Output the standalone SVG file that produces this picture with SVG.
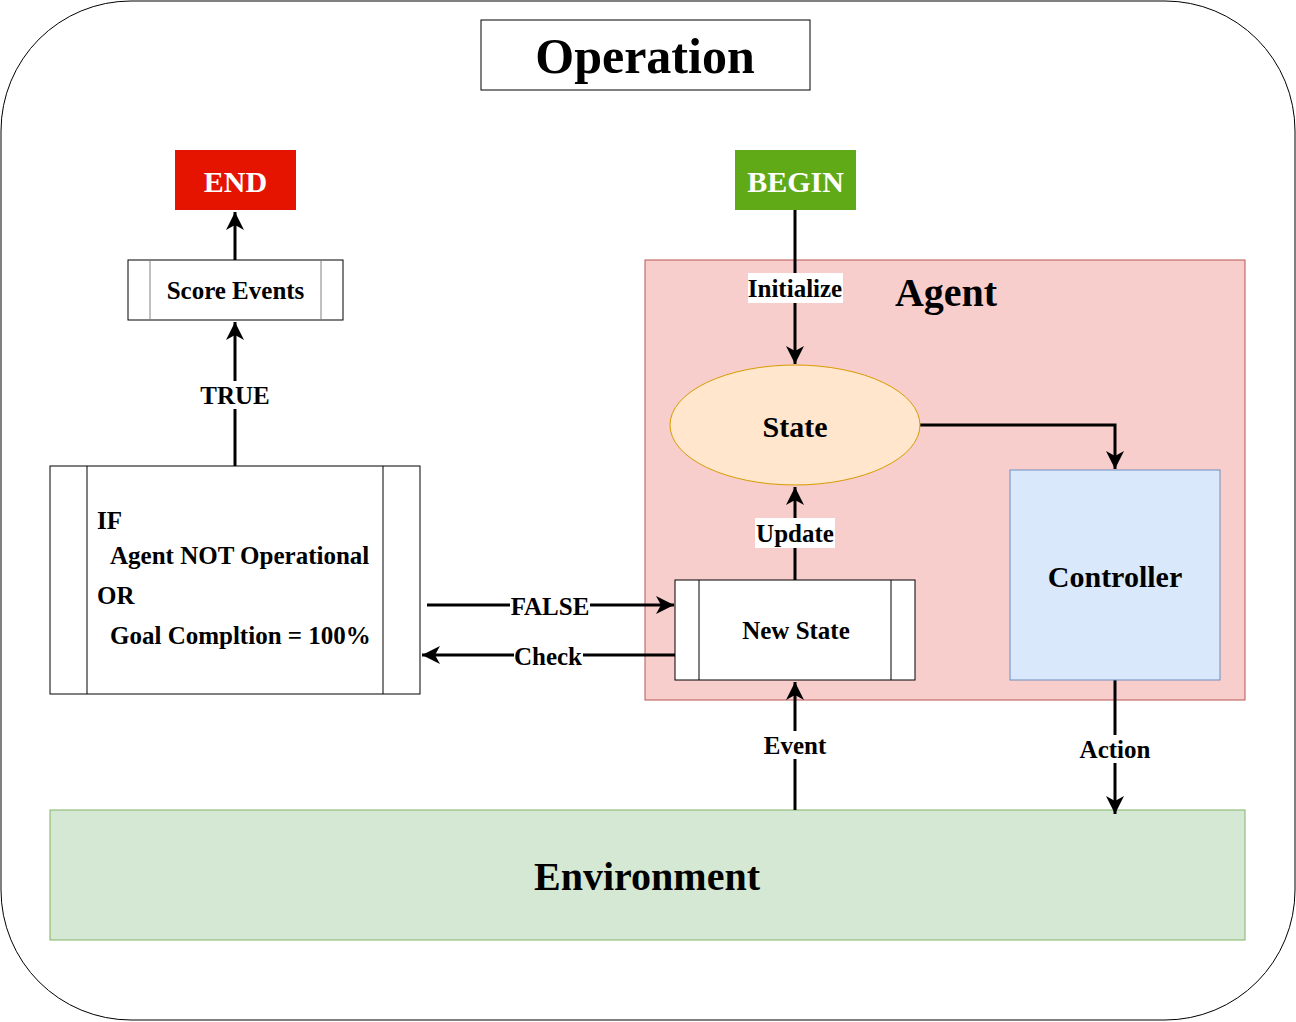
<svg xmlns="http://www.w3.org/2000/svg" width="1296" height="1022" viewBox="0 0 1296 1022">
<style>
text{font-family:"Liberation Serif","Times New Roman",serif;font-weight:bold;fill:#000;}
.c{text-anchor:middle;dominant-baseline:central;}
.ln{fill:none;stroke:#000;stroke-width:3;}
.bx{fill:#fff;stroke:#000;stroke-width:1;}
.lbl{font-size:25px;}
</style>
<defs>
<marker id="ah" markerUnits="userSpaceOnUse" markerWidth="22" markerHeight="22" viewBox="0 0 22 22" refX="20" refY="11" orient="auto">
<path d="M2,2 L20,11 L2,20 L7,11 Z" fill="#000"/>
</marker>
</defs>
<rect x="1" y="1" width="1294" height="1019" rx="130" ry="130" fill="#fff" stroke="#000" stroke-width="1"/>
<g id="operation"><rect x="481" y="20" width="329" height="70" class="bx"/><text x="645" y="56" class="c" font-size="50">Operation</text></g>
<g id="agent"><rect x="645" y="260" width="600" height="440" fill="#f8cecc" stroke="#b85450" stroke-width="1"/><text x="946" y="292" class="c" font-size="40">Agent</text></g>
<g id="environment"><rect x="50" y="810" width="1195" height="130" fill="#d5e8d4" stroke="#82b366" stroke-width="1"/><text x="647" y="876" class="c" font-size="40">Environment</text></g>
<g id="connectors">
<path class="ln" d="M235,260 L235,212" marker-end="url(#ah)"/>
<path class="ln" d="M235,466 L235,322" marker-end="url(#ah)"/>
<path class="ln" d="M795,210 L795,364" marker-end="url(#ah)"/>
<path class="ln" d="M920,425 L1115,425 L1115,469" marker-end="url(#ah)"/>
<path class="ln" d="M795,580 L795,487" marker-end="url(#ah)"/>
<path class="ln" d="M795,810 L795,682" marker-end="url(#ah)"/>
<path class="ln" d="M1115,680 L1115,814" marker-end="url(#ah)"/>
<path class="ln" d="M427,605 L674,605" marker-end="url(#ah)"/>
<path class="ln" d="M675,655 L422,655" marker-end="url(#ah)"/>
<rect x="198" y="381" width="74" height="28" fill="#fff"/><text x="235" y="395" class="c lbl">TRUE</text>
<rect x="748" y="273" width="95" height="30" fill="#fff"/><text x="795" y="288" class="c lbl">Initialize</text>
<rect x="755" y="518" width="80" height="30" fill="#fff"/><text x="795" y="533" class="c lbl">Update</text>
<rect x="760" y="731" width="70" height="28" fill="#fff"/><text x="795" y="745" class="c lbl">Event</text>
<rect x="1077" y="735" width="76" height="28" fill="#fff"/><text x="1115" y="749" class="c lbl">Action</text>
<rect x="510" y="592" width="80" height="28" fill="#fff"/><text x="550" y="606" class="c lbl">FALSE</text>
<rect x="514" y="642" width="69" height="28" fill="#fff"/><text x="548" y="656" class="c lbl">Check</text>
</g>
<g id="end"><rect x="175" y="150" width="121" height="60" fill="#e51400"/><text x="235.5" y="181" class="c" font-size="30" style="fill:#fff">END</text></g>
<g id="begin"><rect x="735" y="150" width="121" height="60" fill="#60a917"/><text x="795.5" y="181" class="c" font-size="30" style="fill:#fff">BEGIN</text></g>
<g id="score-events"><rect x="128" y="260" width="215" height="60" class="bx"/><line x1="150" y1="260" x2="150" y2="320" stroke="#808080"/><line x1="321" y1="260" x2="321" y2="320" stroke="#808080"/><text x="235.5" y="290" class="c" font-size="25">Score Events</text></g>
<g id="condition"><rect x="50" y="466" width="370" height="228" class="bx"/><line x1="87" y1="466" x2="87" y2="694" stroke="#000"/><line x1="383" y1="466" x2="383" y2="694" stroke="#000"/>
<text x="97" y="520" dominant-baseline="central" font-size="25">IF</text>
<text x="110" y="555" dominant-baseline="central" font-size="25">Agent NOT Operational</text>
<text x="97" y="595" dominant-baseline="central" font-size="25">OR</text>
<text x="110" y="635" dominant-baseline="central" font-size="25">Goal Compltion = 100%</text></g>
<g id="state"><ellipse cx="795" cy="425" rx="125" ry="60" fill="#ffe6cc" stroke="#d79b00" stroke-width="1"/><text x="795" y="426" class="c" font-size="30">State</text></g>
<g id="controller"><rect x="1010" y="470" width="210" height="210" fill="#dae8fc" stroke="#6c8ebf" stroke-width="1"/><text x="1115" y="576" class="c" font-size="30">Controller</text></g>
<g id="new-state"><rect x="675" y="580" width="240" height="100" class="bx"/><line x1="699" y1="580" x2="699" y2="680" stroke="#000"/><line x1="891" y1="580" x2="891" y2="680" stroke="#000"/><text x="796" y="630" class="c" font-size="25">New State</text></g>
</svg>
